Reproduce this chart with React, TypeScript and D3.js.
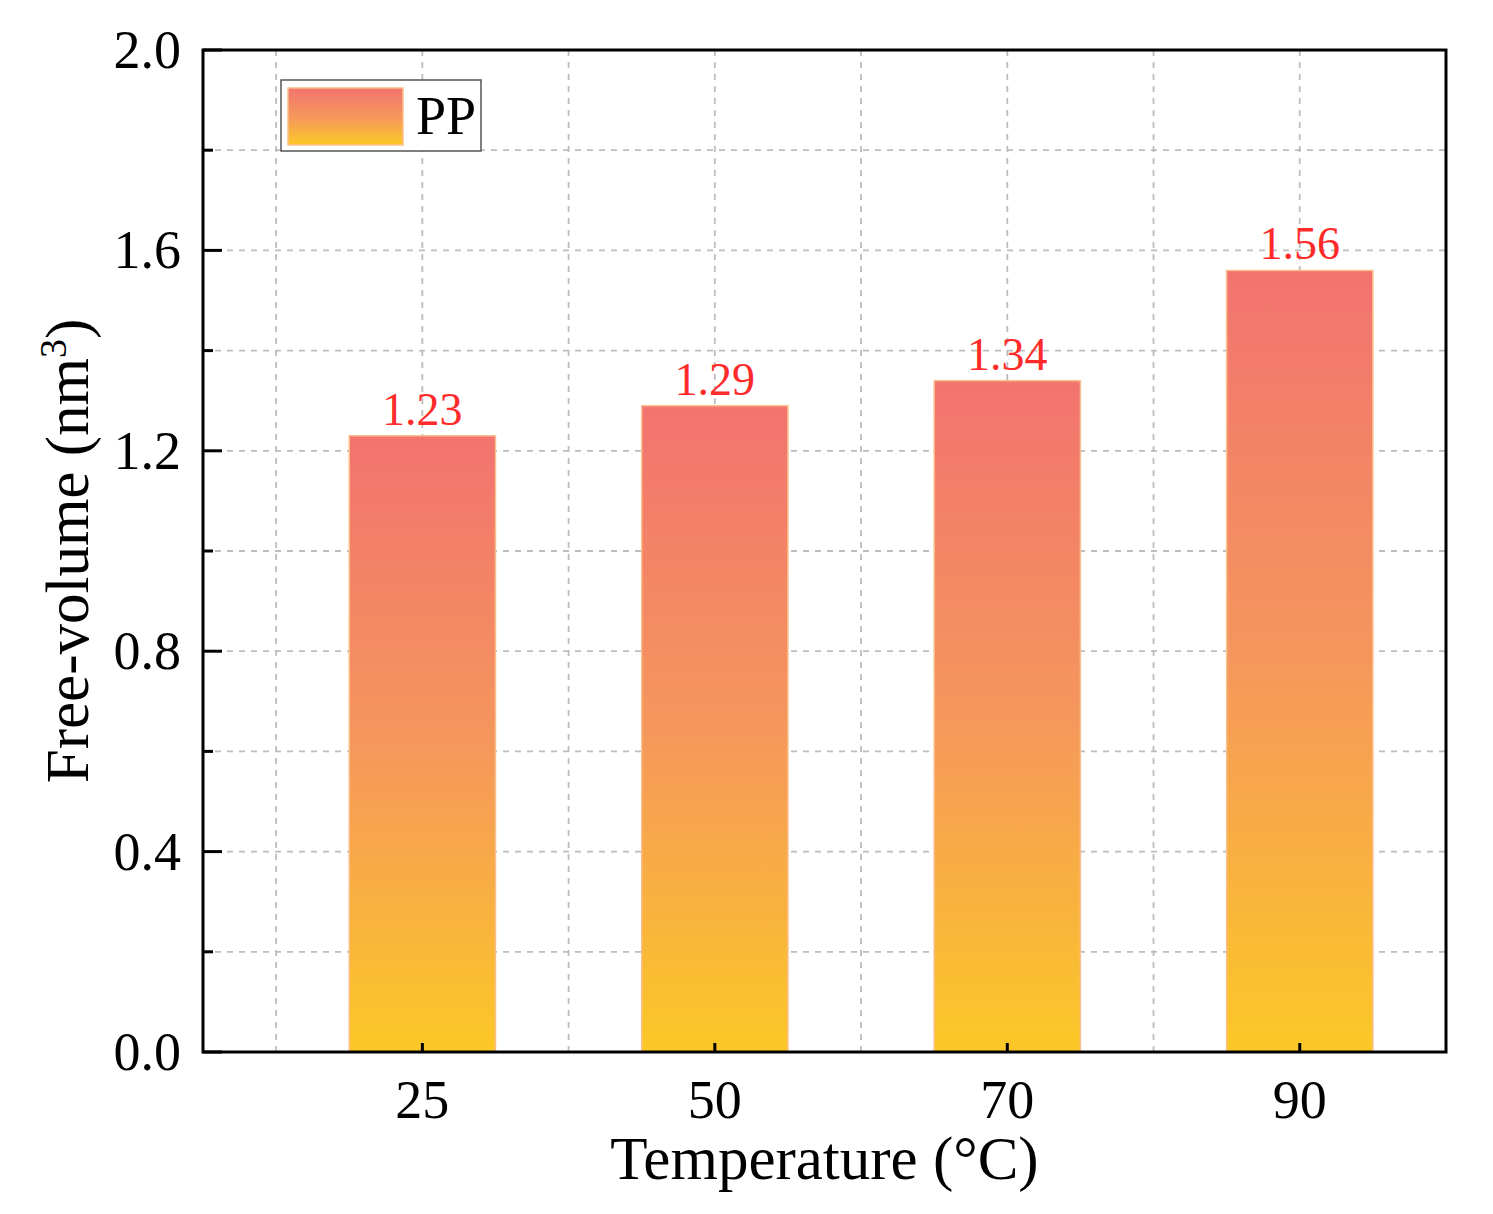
import React, { useEffect, useRef } from 'react';
import * as d3 from 'd3';

const categories = ['25', '50', '70', '90'];
const freeVolume = [1.23, 1.29, 1.34, 1.56];
const yTicks = [0.0, 0.4, 0.8, 1.2, 1.6, 2.0];
const yMinorTicks = [0.2, 0.6, 1.0, 1.4, 1.8];
const seriesName = 'PP';

export default function App() {
  const svgRef = useRef<SVGSVGElement>(null);
  const width = 1493;
  const height = 1214;

  useEffect(() => {
    const svg = d3.select(svgRef.current);
    svg.selectAll('*').remove();

    const margin = { top: 50, right: 47, bottom: 162, left: 203 };
    const innerWidth = width - margin.left - margin.right;
    const innerHeight = height - margin.top - margin.bottom;
    const font = '"Liberation Serif", "Times New Roman", serif';

    // categories sit at 1..4 on a linear axis, like Origin does it
    const x = d3.scaleLinear().domain([0.25, 4.5]).range([0, innerWidth]);
    const y = d3.scaleLinear().domain([0, 2]).range([innerHeight, 0]);
    const barWidth = x(1.5) - x(1);

    const defs = svg.append('defs');
    const grad = defs.append('linearGradient')
      .attr('id', 'barGradient')
      .attr('x1', 0).attr('y1', 0)
      .attr('x2', 0).attr('y2', 1);
    grad.append('stop').attr('offset', '0%').attr('stop-color', '#f2736f');
    grad.append('stop').attr('offset', '50%').attr('stop-color', '#f5975c');
    grad.append('stop').attr('offset', '100%').attr('stop-color', '#fcc826');

    const g = svg.append('g')
      .attr('transform', `translate(${margin.left},${margin.top})`);

    // grid
    const gridY = d3.range(0.2, 2.0, 0.2);
    g.append('g')
      .selectAll('line')
      .data(gridY)
      .join('line')
      .attr('x1', 0).attr('x2', innerWidth)
      .attr('y1', d => y(d)).attr('y2', d => y(d))
      .style('stroke', '#bdbdbd')
      .style('stroke-width', 1.8)
      .style('stroke-dasharray', '6,6');

    const gridX = d3.range(0.5, 4.5, 0.5);
    g.append('g')
      .selectAll('line')
      .data(gridX)
      .join('line')
      .attr('x1', d => x(d)).attr('x2', d => x(d))
      .attr('y1', 0).attr('y2', innerHeight)
      .style('stroke', '#bdbdbd')
      .style('stroke-width', 1.8)
      .style('stroke-dasharray', '6,6');

    // bars
    g.append('g')
      .selectAll('rect')
      .data(freeVolume)
      .join('rect')
      .attr('x', (d, i) => x(i + 1) - barWidth / 2)
      .attr('y', d => y(d))
      .attr('width', barWidth)
      .attr('height', d => innerHeight - y(d))
      .attr('fill', 'url(#barGradient)')
      .attr('stroke', '#f9bf8c')
      .attr('stroke-width', 1.5);

    // value labels
    g.append('g')
      .selectAll('text')
      .data(freeVolume)
      .join('text')
      .attr('x', (d, i) => x(i + 1))
      .attr('y', d => y(d) - 11)
      .attr('text-anchor', 'middle')
      .style('font-family', font)
      .style('font-size', '46px')
      .style('fill', '#ff2a2a')
      .text(d => d.toFixed(2));

    // frame
    g.append('rect')
      .attr('width', innerWidth)
      .attr('height', innerHeight)
      .attr('fill', 'none')
      .attr('stroke', '#000')
      .attr('stroke-width', 3);

    // y axis ticks (inward)
    g.append('g')
      .selectAll('line')
      .data(yTicks)
      .join('line')
      .attr('x1', 0).attr('x2', 19)
      .attr('y1', d => y(d)).attr('y2', d => y(d))
      .attr('stroke', '#000').attr('stroke-width', 3);
    g.append('g')
      .selectAll('line')
      .data(yMinorTicks)
      .join('line')
      .attr('x1', 0).attr('x2', 10)
      .attr('y1', d => y(d)).attr('y2', d => y(d))
      .attr('stroke', '#000').attr('stroke-width', 3);

    g.append('g')
      .selectAll('text')
      .data(yTicks)
      .join('text')
      .attr('x', -22)
      .attr('y', d => y(d) + 18)
      .attr('text-anchor', 'end')
      .style('font-family', font)
      .style('font-size', '54px')
      .style('fill', '#000')
      .text(d => d.toFixed(1));

    // x axis ticks (inward)
    g.append('g')
      .selectAll('line')
      .data(categories)
      .join('line')
      .attr('x1', (d, i) => x(i + 1)).attr('x2', (d, i) => x(i + 1))
      .attr('y1', innerHeight).attr('y2', innerHeight - 9)
      .attr('stroke', '#000').attr('stroke-width', 3);

    g.append('g')
      .selectAll('text')
      .data(categories)
      .join('text')
      .attr('x', (d, i) => x(i + 1))
      .attr('y', innerHeight + 66)
      .attr('text-anchor', 'middle')
      .style('font-family', font)
      .style('font-size', '54px')
      .style('fill', '#000')
      .text(d => d);

    // axis titles
    g.append('text')
      .attr('x', innerWidth / 2)
      .attr('y', innerHeight + 127)
      .attr('text-anchor', 'middle')
      .style('font-family', font)
      .style('font-size', '61px')
      .style('fill', '#000')
      .text('Temperature (\u00B0C)');

    const yTitle = svg.append('text')
      .attr('transform', `translate(88,${margin.top + innerHeight / 2}) rotate(-90)`)
      .attr('text-anchor', 'middle')
      .style('font-family', font)
      .style('font-size', '61px')
      .style('fill', '#000');
    yTitle.append('tspan').text('Free-volume (nm');
    yTitle.append('tspan')
      .attr('dy', -22)
      .style('font-size', '38px')
      .text('3');
    yTitle.append('tspan')
      .attr('dy', 22)
      .text(')');

    // legend
    const legend = svg.append('g');
    legend.append('rect')
      .attr('x', 281).attr('y', 80)
      .attr('width', 200).attr('height', 71)
      .attr('fill', '#fff')
      .attr('stroke', '#555')
      .attr('stroke-width', 1.5);
    legend.append('rect')
      .attr('x', 288).attr('y', 88)
      .attr('width', 115).attr('height', 57)
      .attr('fill', 'url(#barGradient)')
      .attr('stroke', '#f9bf8c')
      .attr('stroke-width', 1.5);
    legend.append('text')
      .attr('x', 416).attr('y', 134)
      .style('font-family', font)
      .style('font-size', '54px')
      .style('fill', '#000')
      .text(seriesName);
  }, []);

  return (
    <svg
      ref={svgRef}
      width={width}
      height={height}
      style={{ position: 'absolute', left: 0, top: 0, background: '#fff' }}
    />
  );
}
